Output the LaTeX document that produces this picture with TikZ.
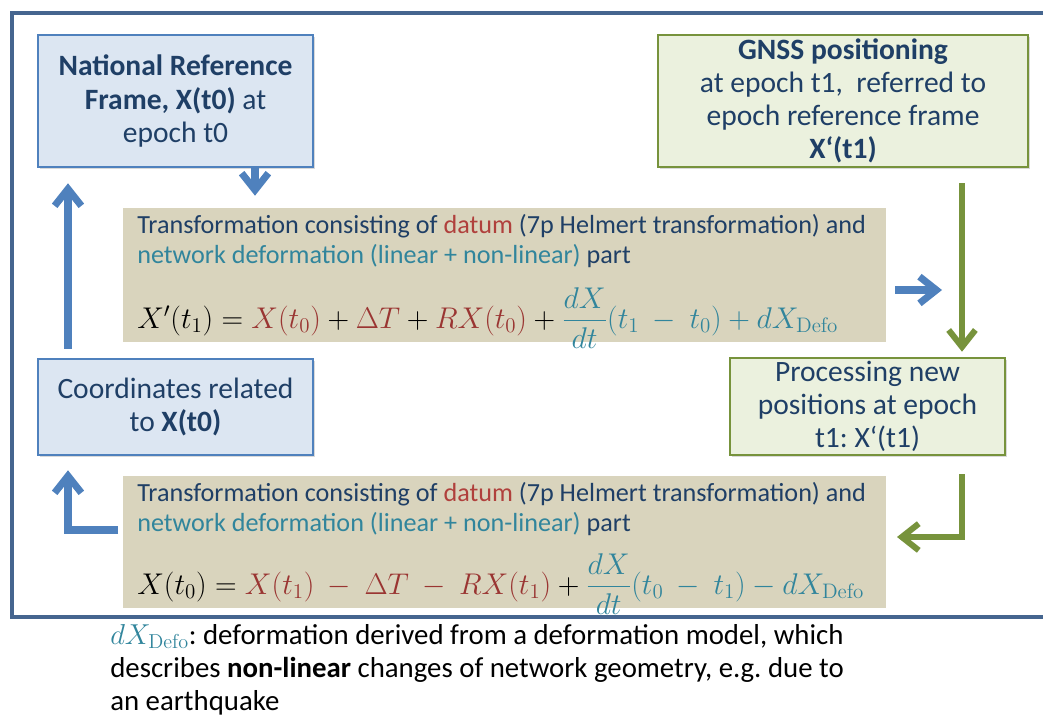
\documentclass[tikz,border=0pt]{standalone}
\usepackage{fix-cm}
\usepackage{amsmath}
\usepackage[no-math]{fontspec}
\setmainfont{Carlito}
\usetikzlibrary{arrows.meta,shadows}
\definecolor{navy}{HTML}{1F3F66}
\definecolor{framec}{HTML}{45658F}
\definecolor{boxblue}{HTML}{4F81BD}
\definecolor{fillblue}{HTML}{DCE6F2}
\definecolor{boxgreen}{HTML}{77933C}
\definecolor{fillgreen}{HTML}{EBF1DE}
\definecolor{tanfill}{HTML}{D9D4BD}
\definecolor{datred}{HTML}{B0403C}
\definecolor{frmred}{HTML}{9A3532}
\definecolor{defteal}{HTML}{31859C}
\frenchspacing

\begin{document}
\begin{tikzpicture}[x=0.025cm,y=-0.025cm,
  bx/.style={line width=1.8pt, text=navy, align=center, inner sep=0pt,
    font=\fontsize{21}{23.5}\selectfont,
    drop shadow={shadow xshift=1.5pt,shadow yshift=-1.5pt,opacity=0.3}},
  bluebox/.style={bx, draw=boxblue, fill=fillblue},
  greenbox/.style={bx, draw=boxgreen, fill=fillgreen},
  tanbox/.style={fill=tanfill, minimum width=19.075cm, inner sep=0pt},
  tanline/.style={anchor=west, inner sep=0pt, text=navy, font=\fontsize{18.6}{21}\selectfont},
  formula/.style={anchor=west, inner sep=0pt, font=\fontsize{21.3}{25}\selectfont},
  barrow/.style={draw=boxblue, line width=5pt, -{Straight Barb[length=12pt,width=19pt]}},
  garrow/.style={draw=boxgreen, line width=4.3pt, -{Straight Barb[length=12pt,width=19pt]}}]
\useasboundingbox (0,0) rectangle (1043,718);
\clip (0,0) rectangle (1043,718);
\draw[framec, line width=2.2pt] (12,13) rectangle (1100,617);

\node[bluebox, minimum width=6.875cm, minimum height=3.3cm] (nrf) at (175.5,101)
  {\textbf{National Reference}\\ \textbf{Frame, X(t0)} at\\ epoch t0};
\node[greenbox, minimum width=9.25cm, minimum height=3.3cm] (gnss) at (843,101)
  {\textbf{GNSS positioning}\\ at epoch t1,\ \ referred to\\ epoch reference frame\\ \textbf{X‘(t1)}};
\node[bluebox, minimum width=6.875cm, minimum height=2.4cm] (coords) at (175.5,407)
  {Coordinates related\\ to \textbf{X(t0)}};
\node[greenbox, minimum width=6.875cm, minimum height=2.425cm] (proc) at (867.5,406.5)
  {Processing new\\ positions at epoch\\ t1: X‘(t1)};

\node[tanbox, minimum height=3.35cm] (tr1) at (504.5,275) {};
\node[tanline] (tr1a) at (137,226) {Transformation consisting of \textcolor{datred}{datum} (7p Helmert transformation) and};
\node[tanline] (tr1b) at (137,256) {\textcolor{defteal}{network deformation (linear + non-linear)} part};
\node[formula] (tr1f) at (137,318) {$X'(t_1) = {\color{frmred}X(t_0)} + {\color{frmred}\Delta T} + {\color{frmred}RX(t_0)} +
  {\color{defteal}\dfrac{dX}{dt}(t_1\ -\ t_0) + dX_{\mathrm{Defo}}}$};

\node[tanbox, minimum height=3.3cm] (tr2) at (504.5,542) {};
\node[tanline] (tr2a) at (137,494) {Transformation consisting of \textcolor{datred}{datum} (7p Helmert transformation) and};
\node[tanline] (tr2b) at (137,524) {\textcolor{defteal}{network deformation (linear + non-linear)} part};
\node[formula] (tr2f) at (137,584) {$X(t_0) = {\color{frmred}X(t_1)\ -\ \Delta T\ -\ RX(t_1)} +
  {\color{defteal}\dfrac{dX}{dt}(t_0\ -\ t_1) - dX_{\mathrm{Defo}}}$};

\coordinate (xdown) at (255,0);
\coordinate (xleft) at (68,0);
\coordinate (xgreen) at (962,0);
\coordinate (e1) at (118,530);
\coordinate (e2) at (897,537);
\coordinate (r1) at (895,290);
\coordinate (r2) at (942,290);

\path[barrow] (xdown |- nrf.south) -- ([yshift=0.3cm]xdown |- tr1.north);
\path[barrow, shorten <=0.225cm] (xleft |- coords.north) -- ([yshift=-0.375cm]xleft |- nrf.south);
\path[barrow] (e1) -| ([yshift=-0.35cm]xleft |- coords.south);
\path[barrow] (r1) -- (r2);
\path[garrow, shorten <=0.375cm] (xgreen |- gnss.south) -- ([yshift=0.125cm]xgreen |- proc.north);
\path[garrow, shorten <=0.45cm] (xgreen |- proc.south) |- (e2);

\node[anchor=north west, align=left, inner sep=0pt, font=\fontsize{20.5}{23.4}\selectfont] (note) at (110,624)
  {{\color{defteal}$dX_{\mathrm{Defo}}$}: deformation derived from a deformation model, which\\
   describes \textbf{non-linear} changes of network geometry, e.g. due to\\
   an earthquake};
\end{tikzpicture}
\end{document}
